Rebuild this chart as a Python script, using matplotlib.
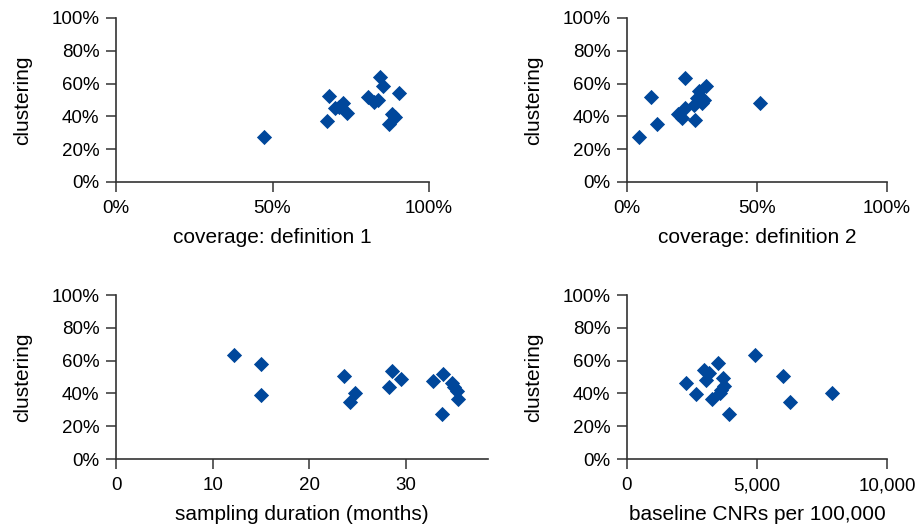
import matplotlib
matplotlib.use("Agg")
import matplotlib.pyplot as plt
from matplotlib.ticker import FuncFormatter

plt.rcParams['font.family'] = ['Liberation Sans', 'DejaVu Sans']

# coverage definition 1 (%) vs clustering (%)
cov1 = [47.4, 68.2, 67.5, 70.0, 71.2, 72.6, 73.7, 80.6, 82.5, 83.6, 84.3, 85.2, 90.4, 88.3, 89.1, 87.2]
clu1 = [27.6, 52.4, 37.2, 45.0, 46.0, 48.0, 42.0, 52.0, 48.6, 50.0, 64.2, 58.7, 54.1, 41.3, 39.8, 35.2]

# coverage definition 2 (%) vs clustering (%)
cov2 = [4.6, 9.3, 11.4, 19.8, 21.1, 22.4, 22.2, 25.6, 26.3, 27.0, 27.6, 28.9, 29.5, 30.4, 51.0]
clu2 = [27.6, 52.0, 35.4, 41.3, 38.9, 45.0, 63.6, 47.0, 37.8, 51.0, 55.5, 48.2, 50.0, 58.7, 48.4]

# sampling duration (months) vs clustering (%)
dur = [12.2, 15.0, 15.0, 23.6, 24.7, 24.2, 28.3, 28.6, 29.5, 32.8, 33.8, 33.7, 34.8, 35.0, 35.3, 35.4]
clu3 = [63.4, 57.9, 38.8, 50.4, 40.2, 34.5, 43.9, 53.4, 48.8, 47.6, 51.8, 27.3, 46.3, 44.0, 41.6, 36.5]

# baseline CNRs per 100,000 vs clustering (%)
cnr = [2280, 2660, 2950, 3040, 3170, 3260, 3500, 3620, 3680, 3740, 3560, 3910, 4935, 6010, 6280, 7880]
clu4 = [46.3, 39.8, 54.5, 47.9, 52.4, 36.6, 58.5, 42.3, 49.4, 44.3, 40.0, 27.6, 63.6, 50.6, 34.8, 40.2]

color = '#00479b'
W, H = 921, 525

fig = plt.figure(figsize=(W / 100, H / 100), dpi=100)

def px_axes(x0, x1, ytop, ybot):
    return fig.add_axes([x0 / W, 1 - ybot / H, (x1 - x0) / W, (ybot - ytop) / H])

ax1 = px_axes(116, 429, 18, 182)
ax2 = px_axes(627, 887, 18, 182)
ax3 = px_axes(116, 488, 295, 459)
ax4 = px_axes(627, 887, 295, 459)

pct = FuncFormatter(lambda v, p: f"{v:.0f}%")
comma = FuncFormatter(lambda v, p: f"{v:,.0f}")

panels = [
    (ax1, cov1, clu1, (0, 100), [0, 50, 100], pct, "coverage: definition 1"),
    (ax2, cov2, clu2, (0, 100), [0, 50, 100], pct, "coverage: definition 2"),
    (ax3, dur, clu3, (0, 38.5), [0, 10, 20, 30], None, "sampling duration (months)"),
    (ax4, cnr, clu4, (0, 10000), [0, 5000, 10000], comma, "baseline CNRs per 100,000"),
]

for ax, x, y, xlim, xticks, fmt, xlabel in panels:
    ax.scatter(x, y, marker='D', s=60, color=color, linewidths=0, clip_on=False, zorder=3)
    ax.set_xlim(*xlim)
    ax.set_ylim(0, 100)
    ax.set_xticks(xticks)
    ax.set_yticks([0, 20, 40, 60, 80, 100])
    ax.yaxis.set_major_formatter(pct)
    if fmt is not None:
        ax.xaxis.set_major_formatter(fmt)
    for s in ['top', 'right']:
        ax.spines[s].set_visible(False)
    for s in ['left', 'bottom']:
        ax.spines[s].set_color('#333333')
        ax.spines[s].set_linewidth(1.2)
    ax.tick_params(direction='out', length=7, width=1.1, color='#333333', labelsize=13.5)
    ax.tick_params(axis='x', pad=6)
    ax.tick_params(axis='y', pad=5)
    ax.set_xlabel(xlabel, fontsize=15, labelpad=8)
    ax.set_ylabel("clustering", fontsize=15, labelpad=14)

fig.savefig("out.png", dpi=100)
